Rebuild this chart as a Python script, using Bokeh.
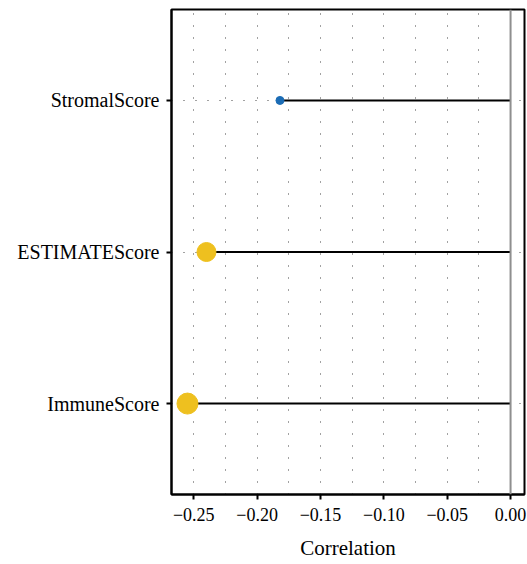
from bokeh.plotting import figure
from bokeh.models import FactorRange, Range1d, FixedTicker, Span, ColumnDataSource
from bokeh.embed import file_html
from bokeh.resources import INLINE

# Data
categories = ["ImmuneScore", "ESTIMATEScore", "StromalScore"]
correlation = [-0.255, -0.240, -0.182]
x_ticks = [-0.25, -0.20, -0.15, -0.10, -0.05, 0.00]
x_tick_labels = ["\u22120.25", "\u22120.20", "\u22120.15", "\u22120.10", "\u22120.05", "0.00"]
x_minor = [-0.225, -0.175, -0.125, -0.075, -0.025]

# Styles (per category)
point_color = {"ImmuneScore": "#eec01f", "ESTIMATEScore": "#eec01f", "StromalScore": "#1b6cb5"}
point_size = {"ImmuneScore": 21, "ESTIMATEScore": 19, "StromalScore": 8}

src = ColumnDataSource(dict(
    cat=categories,
    corr=correlation,
    zero=[0.0] * len(categories),
    color=[point_color[c] for c in categories],
    size=[point_size[c] for c in categories],
))

FONT = "Liberation Serif"

p = figure(width=527, height=564, output_backend="svg", toolbar_location=None,
           x_range=Range1d(-0.2676, 0.011),
           y_range=FactorRange(factors=categories, range_padding=0.1, range_padding_units="absolute"),
           min_border_left=171, min_border_right=3, min_border_top=9, min_border_bottom=70)

p.background_fill_color = "white"
p.border_fill_color = "white"
p.outline_line_color = "black"
p.outline_line_width = 2

# grids
p.xgrid.ticker = FixedTicker(ticks=x_ticks, minor_ticks=x_minor)
p.xgrid.grid_line_color = "#444444"
p.xgrid.grid_line_dash = "1 11"
p.xgrid.grid_line_width = 1
p.xgrid.minor_grid_line_color = "#444444"
p.xgrid.minor_grid_line_dash = "1 11"
p.xgrid.minor_grid_line_width = 1
p.ygrid.grid_line_color = "#444444"
p.ygrid.grid_line_dash = "1 11"
p.ygrid.grid_line_width = 1

# zero line
p.add_layout(Span(location=0, dimension="height", line_color="#8f8f8f", line_width=2))

# lollipops
p.segment(x0="corr", y0="cat", x1="zero", y1="cat", source=src, line_color="black", line_width=2)
p.scatter(x="corr", y="cat", source=src, size="size", fill_color="color", line_color="color")

# axes
p.xaxis.ticker = FixedTicker(ticks=x_ticks, minor_ticks=[])
p.xaxis.major_label_overrides = {t: l for t, l in zip(x_ticks, x_tick_labels)}
p.xaxis.axis_label = "Correlation"
for ax in (p.xaxis[0], p.yaxis[0]):
    ax.axis_line_color = "black"
    ax.axis_line_width = 2
    ax.major_tick_line_color = "black"
    ax.major_tick_line_width = 2
    ax.major_tick_out = 5
    ax.major_tick_in = 0
    ax.minor_tick_line_color = None
    ax.major_label_text_font = FONT
    ax.major_label_text_color = "black"
    ax.axis_label_text_font = FONT
    ax.axis_label_text_font_size = "21px"
    ax.axis_label_text_font_style = "normal"
    ax.axis_label_text_color = "black"
p.xaxis.major_label_text_font_size = "18px"
p.yaxis.major_label_text_font_size = "20px"
p.xaxis.major_label_standoff = 8
p.xaxis.axis_label_standoff = 12
p.yaxis.major_label_standoff = 7

open("out.html", "w").write(file_html(p, INLINE))
